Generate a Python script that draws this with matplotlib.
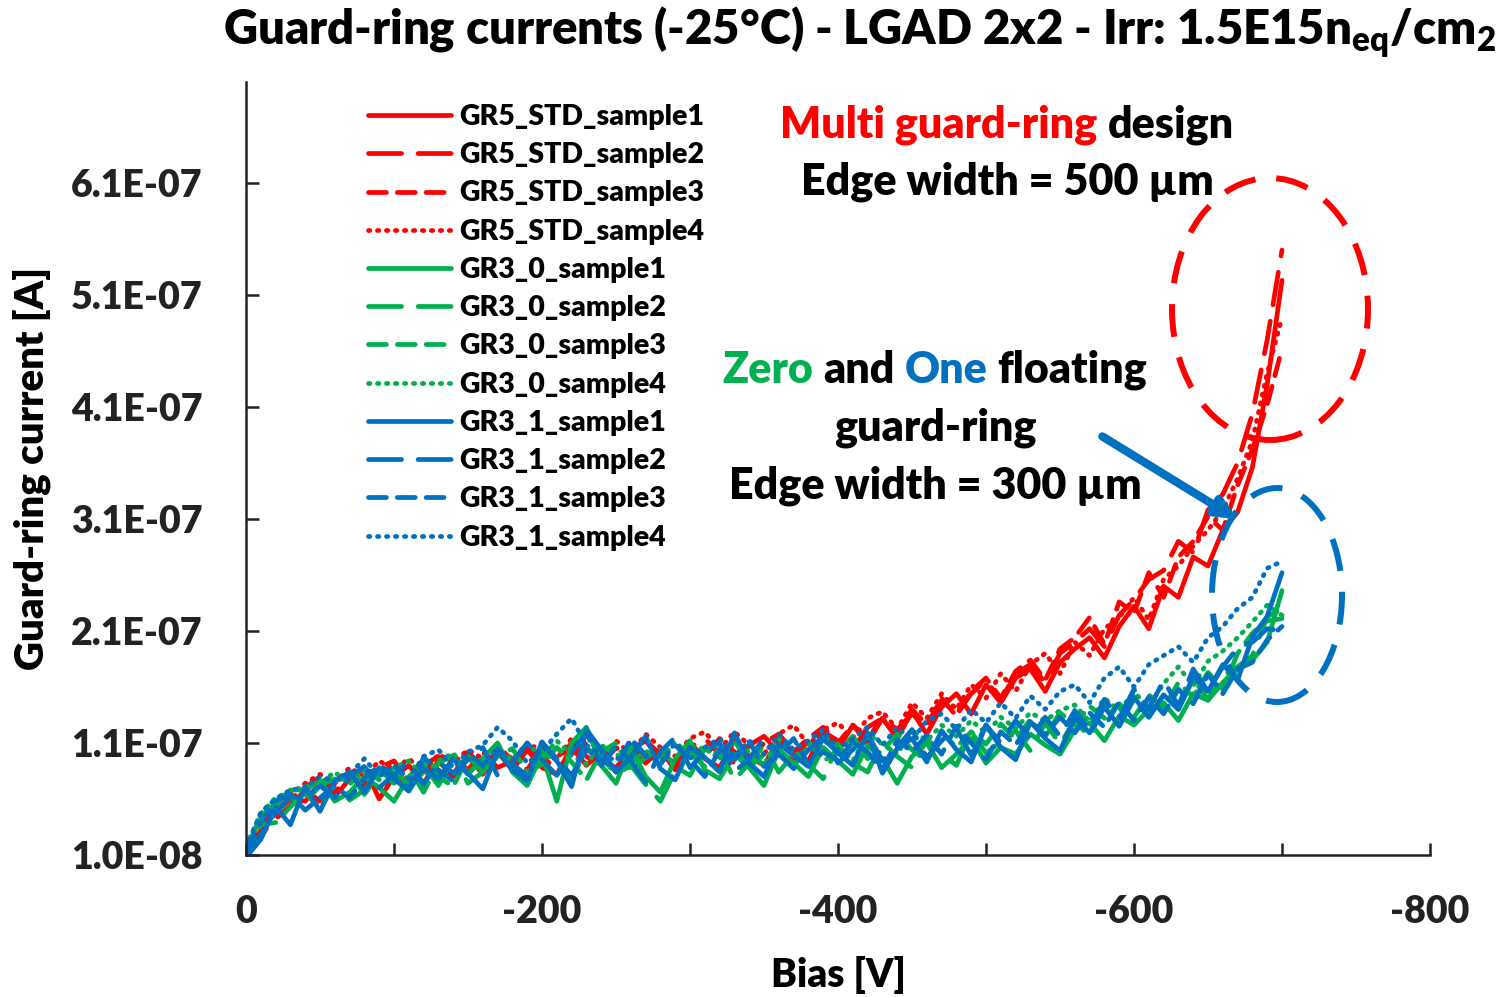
import matplotlib
matplotlib.use('Agg')
import matplotlib.pyplot as plt
from matplotlib.patches import Ellipse
from matplotlib.transforms import IdentityTransform
import numpy as np

plt.rcParams['font.family'] = ['Lato', 'DejaVu Sans']
plt.rcParams['mathtext.fontset'] = 'custom'
plt.rcParams['mathtext.rm'] = 'Lato:heavy'
FW = 'heavy'

# bias sweep, 10 V steps from 0 to -700 V
bias = np.arange(0, -710, -10)

# guard-ring currents in nA
r1 = [12, 32, 48, 60, 58, 74, 62, 78, 88, 60, 80, 90, 74, 94, 80, 98, 82, 102, 86, 104,
      88, 82, 106, 90, 102, 84, 108, 92, 104, 86, 110, 96, 88, 112, 98, 90, 114, 100, 94, 120,
      104, 126, 110, 132, 114, 138, 118, 142, 154, 136, 162, 146, 168, 176, 156, 182, 194, 204, 186, 214,
      232, 212, 250, 240, 276, 268, 300, 316, 356, 430, 523]
r2 = [10, 28, 42, 54, 68, 58, 76, 84, 72, 90, 82, 72, 94, 82, 98, 86, 102, 88, 94, 106,
      98, 86, 100, 110, 94, 88, 104, 112, 96, 90, 106, 114, 100, 92, 108, 116, 102, 94, 112, 120,
      112, 104, 124, 132, 122, 136, 126, 148, 136, 154, 166, 148, 172, 180, 164, 190, 200, 212, 196, 224,
      238, 256, 264, 290, 280, 318, 332, 360, 404, 470, 550]
r3 = [14, 38, 52, 60, 70, 80, 66, 80, 70, 88, 94, 76, 90, 98, 82, 102, 88, 104, 96, 86,
      106, 94, 110, 98, 90, 106, 96, 112, 100, 92, 108, 98, 114, 102, 94, 110, 118, 102, 114, 124,
      110, 126, 114, 132, 120, 140, 126, 150, 134, 156, 168, 150, 174, 184, 166, 194, 204, 222, 198, 236,
      226, 262, 240, 276, 290, 312, 300, 340, 372, 412, 462]
r4 = [16, 42, 58, 64, 74, 82, 74, 88, 80, 94, 86, 96, 84, 100, 92, 104, 96, 108, 94, 104,
      110, 96, 114, 104, 96, 112, 100, 118, 106, 98, 114, 120, 104, 120, 108, 100, 118, 126, 108, 122,
      128, 114, 132, 138, 122, 146, 132, 154, 140, 162, 150, 172, 156, 180, 190, 172, 200, 188, 212, 222,
      240, 220, 256, 268, 286, 300, 318, 346, 380, 440, 490]
g1 = [14, 44, 56, 68, 68, 76, 58, 66, 80, 70, 58, 80, 90, 72, 96, 82, 96, 110, 84, 72,
      100, 58, 110, 124, 90, 74, 106, 80, 66, 96, 112, 86, 78, 100, 88, 72, 104, 92, 80, 106,
      94, 82, 108, 96, 74, 98, 110, 88, 100, 114, 92, 106, 100, 118, 108, 100, 122, 128, 112, 134,
      126, 140, 146, 130, 154, 148, 164, 176, 184, 200, 246]
g2 = [8, 25, 51, 61, 57, 72, 78, 59, 68, 87, 74, 88, 66, 92, 99, 74, 84, 102, 89, 76,
      103, 90, 77, 105, 98, 82, 90, 73, 58, 85, 101, 89, 105, 77, 92, 108, 84, 100, 91, 78,
      109, 92, 84, 111, 98, 88, 114, 100, 90, 120, 101, 111, 121, 103, 128, 109, 130, 115, 144, 125,
      149, 133, 153, 140, 167, 149, 170, 178, 188, 223, 229]
g3 = [12, 37, 39, 53, 65, 52, 74, 83, 64, 83, 86, 72, 94, 80, 71, 98, 84, 98, 105, 84,
      91, 106, 93, 77, 102, 110, 86, 97, 105, 89, 81, 105, 97, 113, 88, 100, 104, 88, 111, 94,
      101, 116, 96, 103, 118, 104, 94, 120, 106, 120, 109, 127, 113, 131, 116, 137, 126, 143, 132, 145,
      133, 153, 141, 164, 151, 173, 158, 190, 208, 219, 221]
g4 = [18, 47, 61, 67, 71, 74, 84, 73, 86, 77, 88, 94, 80, 94, 101, 84, 94, 104, 95, 110,
      97, 112, 99, 91, 108, 100, 92, 103, 95, 111, 99, 107, 95, 111, 102, 90, 114, 98, 105, 116,
      107, 94, 118, 109, 100, 122, 112, 126, 116, 130, 119, 133, 123, 137, 130, 139, 144, 129, 150, 139,
      155, 143, 163, 178, 161, 183, 192, 204, 218, 233, 224]
b1 = [8, 24, 53, 37, 71, 49, 76, 84, 66, 88, 78, 67, 88, 78, 96, 83, 69, 103, 86, 76,
      111, 94, 71, 122, 104, 84, 97, 116, 87, 77, 106, 97, 84, 119, 92, 80, 109, 99, 89, 114,
      101, 90, 119, 83, 105, 114, 93, 121, 104, 93, 126, 106, 95, 129, 114, 103, 133, 119, 142, 125,
      151, 133, 153, 140, 169, 156, 180, 166, 205, 223, 262]
b2 = [8, 28, 47, 62, 61, 72, 61, 80, 89, 70, 82, 93, 73, 93, 83, 95, 106, 81, 93, 110,
      95, 81, 102, 119, 90, 107, 94, 75, 102, 115, 88, 102, 110, 84, 96, 114, 100, 87, 104, 116,
      92, 104, 118, 94, 106, 122, 97, 112, 123, 99, 126, 110, 130, 114, 133, 116, 139, 122, 149, 132,
      158, 140, 166, 143, 176, 156, 178, 195, 200, 212, 210]
b3 = [14, 39, 58, 64, 50, 61, 72, 61, 78, 90, 80, 69, 97, 86, 76, 101, 90, 105, 91, 81,
      110, 96, 81, 104, 96, 87, 114, 99, 91, 108, 95, 80, 104, 95, 111, 89, 100, 114, 91, 102,
      94, 111, 102, 86, 113, 102, 117, 100, 125, 110, 95, 120, 108, 129, 117, 133, 119, 137, 124, 147,
      130, 151, 136, 158, 145, 171, 154, 176, 182, 202, 214]
b4 = [16, 48, 60, 68, 70, 80, 76, 82, 96, 80, 90, 78, 98, 104, 88, 102, 108, 124, 112, 92,
      102, 118, 132, 108, 100, 94, 112, 98, 92, 110, 96, 106, 114, 98, 112, 100, 118, 104, 112, 122,
      104, 114, 124, 108, 124, 112, 130, 136, 122, 140, 128, 146, 132, 152, 140, 156, 162, 146, 168, 178,
      160, 180, 188, 196, 182, 204, 214, 230, 240, 266, 272]

labels = ['GR5_STD_sample1', 'GR5_STD_sample2', 'GR5_STD_sample3', 'GR5_STD_sample4',
          'GR3_0_sample1', 'GR3_0_sample2', 'GR3_0_sample3', 'GR3_0_sample4',
          'GR3_1_sample1', 'GR3_1_sample2', 'GR3_1_sample3', 'GR3_1_sample4']
series = [r1, r2, r3, r4, g1, g2, g3, g4, b1, b2, b3, b4]

red = '#FF0000'
green = '#00B050'
blue = '#0070C0'
colors = [red] * 4 + [green] * 4 + [blue] * 4
styles = ['-', (0, (7, 3.5)), (0, (3.8, 2.3)), (0, (0.3, 1.6))] * 3

W, H = 1508, 997
fig = plt.figure(figsize=(W / 100, H / 100), dpi=100)
ax = fig.add_axes([246 / W, 1 - 855 / H, (1430 - 246) / W, (855 - 82) / H])

for ys, lab, c, ls in zip(series, labels, colors, styles):
    ax.plot(bias, np.array(ys) * 1e-9, color=c, linestyle=ls, lw=3.4,
            dash_capstyle='round', solid_capstyle='round', solid_joinstyle='round', label=lab)

ax.set_xlim(0, -800)
ax.set_ylim(1e-8, 7e-7)
ax.set_xticks([0, -200, -400, -600, -800])
ax.set_xticklabels(['0', '-200', '-400', '-600', '-800'])
ax.set_xticks([-100, -300, -500, -700], minor=True)
yt = [1e-8, 1.1e-7, 2.1e-7, 3.1e-7, 4.1e-7, 5.1e-7, 6.1e-7]
ax.set_yticks(yt)
ax.set_yticklabels(['1.0E-08', '1.1E-07', '2.1E-07', '3.1E-07', '4.1E-07', '5.1E-07', '6.1E-07'])
ax.tick_params(axis='both', which='both', direction='in', length=9, width=1.8,
               labelsize=27, colors='#222222')
for t in ax.get_xticklabels() + ax.get_yticklabels():
    t.set_fontweight(FW)
ax.tick_params(axis='x', pad=29)
ax.tick_params(axis='y', pad=31)
for s in ['top', 'right']:
    ax.spines[s].set_visible(False)
for s in ['left', 'bottom']:
    ax.spines[s].set_linewidth(1.8)
    ax.spines[s].set_color('#222222')

ax.set_xlabel('Bias [V]', fontsize=28, fontweight=FW)
ax.xaxis.set_label_coords(0.5, -(975 - 855) / 773)
ax.set_ylabel('Guard-ring current [A]', fontsize=29, fontweight=FW)
ax.yaxis.set_label_coords(-(246 - 32) / 1184, 0.5)
ax.xaxis.label.set_va('center')
ax.yaxis.label.set_va('center')

fig.text(859 / W, 1 - 32 / H, r'Guard-ring currents (-25°C) - LGAD 2x2 - Irr: 1.5E15n$_{\mathrm{eq}}$/cm$_{\mathrm{2}}$',
         ha='center', va='center', fontsize=34, fontweight=FW)

leg = ax.legend(loc='upper left', bbox_to_anchor=(368 / W, 1 - 104 / H), bbox_transform=fig.transFigure,
                frameon=False, fontsize=20.5, handlelength=2.9, handletextpad=0.32, labelspacing=0.43,
                borderpad=0, borderaxespad=0)
for t in leg.get_texts():
    t.set_fontweight(FW)

# annotation lines with coloured words, centred at xc
FS = 31
renderer = fig.canvas.get_renderer()


def width_of(s):
    t = fig.text(0, 0, s, fontsize=FS, fontweight=FW)
    w = t.get_window_extent(renderer).width
    t.remove()
    return w


space = width_of('a a') - width_of('aa')


def text_line(xc, y, parts):
    ws = [width_of(s) for s, c in parts]
    total = sum(ws) + space * (len(parts) - 1)
    x = xc - total / 2
    for (s, c), w in zip(parts, ws):
        fig.text(x, H - y, s, color=c, fontsize=FS, fontweight=FW, va='center', ha='left',
                 transform=IdentityTransform())
        x += w + space


text_line(1007, 125, [('Multi guard-ring', red), ('design', 'black')])
text_line(1007, 182, [('Edge width = 500 µm', 'black')])
text_line(935, 370, [('Zero', green), ('and', 'black'), ('One', blue), ('floating', 'black')])
text_line(935, 428, [('guard-ring', 'black')])
text_line(935, 486, [('Edge width = 300 µm', 'black')])

fig.patches.append(Ellipse((1270 / W, 1 - 309 / H), 196 / W, 262 / H, transform=fig.transFigure,
                           fill=False, ec=red, lw=4.3, ls=(0, (5.5, 3.5))))
fig.patches.append(Ellipse((1277 / W, 1 - 595 / H), 130 / W, 214 / H, transform=fig.transFigure,
                           fill=False, ec=blue, lw=4.3, ls=(0, (5.5, 3.5))))
ax.annotate('', xy=(1240 / W, 1 - 521 / H), xytext=(1100 / W, 1 - 435 / H),
            xycoords='figure fraction', textcoords='figure fraction',
            arrowprops=dict(arrowstyle='-|>,head_length=1.2,head_width=0.55', color=blue, lw=6))

plt.savefig('out.png', dpi=100)
